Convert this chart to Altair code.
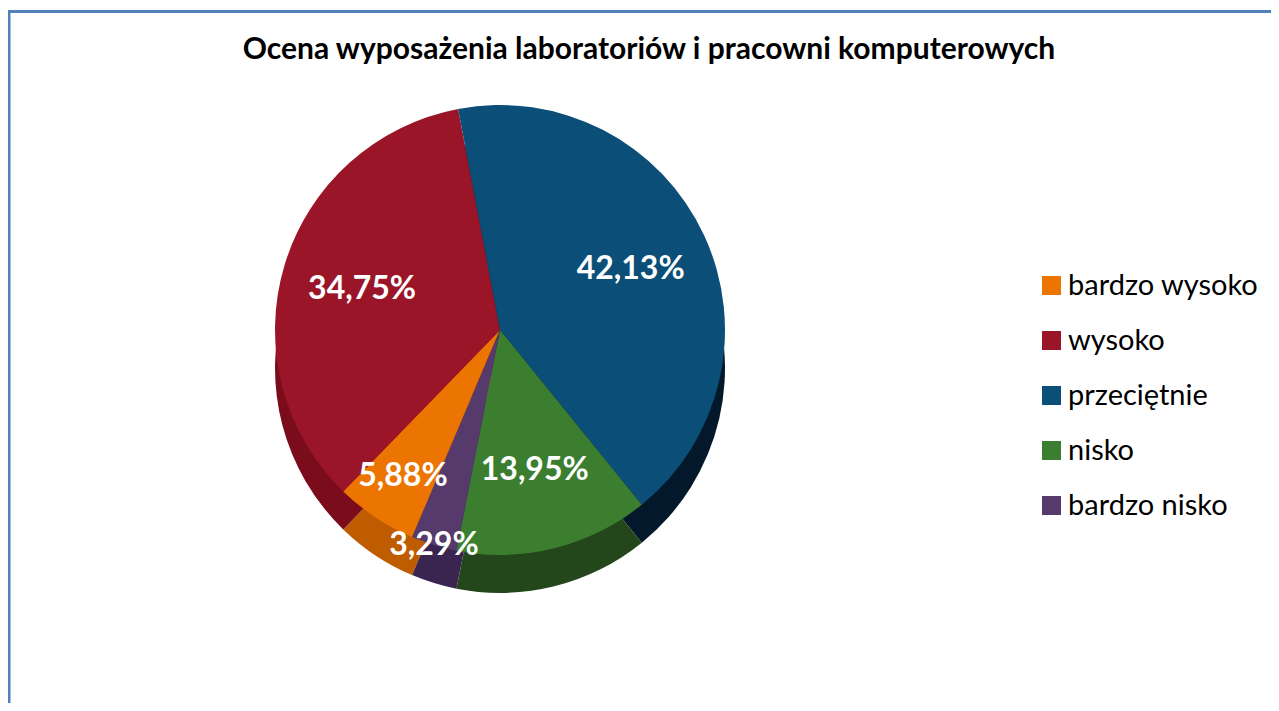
import math
import altair as alt
import pandas as pd

# ---- data ----
categories = ["bardzo wysoko", "wysoko", "przeciętnie", "nisko", "bardzo nisko"]
values = [5.88, 34.75, 42.13, 13.95, 3.29]
value_labels = ["5,88%", "34,75%", "42,13%", "13,95%", "3,29%"]
title_text = "Ocena wyposażenia laboratoriów i pracowni komputerowych"

top_colors = ["#EC7400", "#9B1528", "#0B4F78", "#3B7E2F", "#563A6C"]
side_colors = ["#C05C00", "#7A0C1C", "#03192B", "#23461A", "#3A2550"]

df = pd.DataFrame({
    "kat": categories,
    "val": values,
    "lab": value_labels,
    "idx": list(range(len(categories))),
})

# ---- layout ----
W, H = 1263, 695
R = 225
CX, CY = 492, 322
DEPTH = 38
A0 = math.radians(203)

theta_scale = alt.Scale(domain=[0, 100], range=[A0, A0 + 2 * math.pi])
theta = alt.Theta("val:Q", stack=True, scale=theta_scale)
order = alt.Order("idx:Q")

base = alt.Chart(df)

side = base.mark_arc(radius=R).encode(
    theta=theta,
    order=order,
    color=alt.Color("kat:N", scale=alt.Scale(domain=categories, range=side_colors), legend=None),
    x=alt.value(CX),
    y=alt.value(CY + DEPTH),
)

top = base.mark_arc(radius=R).encode(
    theta=theta,
    order=order,
    color=alt.Color(
        "kat:N",
        scale=alt.Scale(domain=categories, range=top_colors),
        legend=alt.Legend(
            title=None,
            orient="none",
            legendX=1029,
            legendY=263,
            symbolType="square",
            symbolSize=361,
            symbolStrokeWidth=0,
            symbolOpacity=1,
            labelFont="Lato",
            labelFontSize=29,
            labelColor="#000000",
            labelOffset=2,
            labelLimit=0,
            rowPadding=25,
            padding=0,
        ),
    ),
    x=alt.value(CX),
    y=alt.value(CY),
)

label_style = dict(font="Lato", fontWeight="bold", fontSize=32,
                   color="white", align="center", baseline="middle")

labels_base = base.transform_window(
    cum="sum(val)", sort=[alt.SortField("idx")], frame=[None, 0]
).transform_calculate(mid="datum.cum - datum.val / 2")


def label_layer(cond, r):
    return labels_base.transform_filter(cond).mark_text(
        radius=r, **label_style
    ).encode(
        theta=alt.Theta("mid:Q", stack=None, scale=theta_scale),
        text="lab:N",
        x=alt.value(CX), y=alt.value(CY),
    )


text_big = label_layer(alt.datum.val >= 10, R * 0.64)
text_mid = label_layer((alt.datum.val >= 5) & (alt.datum.val < 10), R * 0.78)
text_tiny = label_layer(alt.datum.val < 5, R * 1.0)

title = alt.Chart(pd.DataFrame({"t": [title_text]})).mark_text(
    font="Lato", fontWeight="bold", fontSize=30, color="#000000",
    align="center", baseline="middle",
).encode(
    text="t:N",
    x=alt.value(641),
    y=alt.value(42),
)

frame_df = pd.DataFrame({"f": [0]})
frame_top = alt.Chart(frame_df).mark_rect(color="#4F81BD", opacity=1).encode(
    x=alt.value(0), x2=alt.value(W), y=alt.value(2), y2=alt.value(5)
)
frame_left = alt.Chart(frame_df).mark_rect(color="#4F81BD", opacity=1).encode(
    x=alt.value(0), x2=alt.value(2.5), y=alt.value(2), y2=alt.value(H)
)

chart = (
    alt.layer(side, top, text_big, text_mid, text_tiny, title, frame_top, frame_left)
    .resolve_scale(color="independent")
    .properties(width=W, height=H, padding=0, autosize="none")
    .configure(background="white")
    .configure_view(stroke=None)
)

chart.save("out.html", embed_options={"renderer": "svg", "actions": False})
